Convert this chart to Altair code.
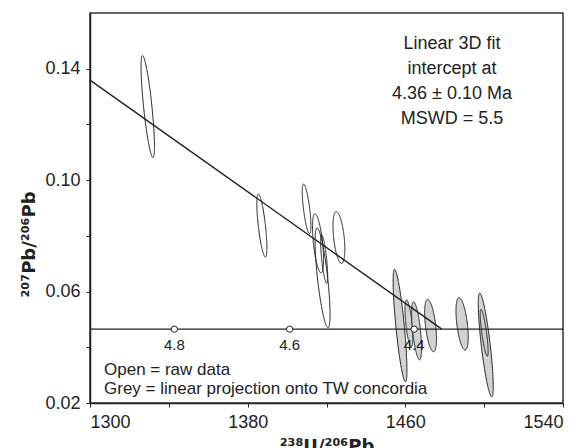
import json
import altair as alt
import numpy as np
import pandas as pd

# ---- data ----
# open ellipses (raw data): centre x, centre y, half x-extent, half y-extent, correlation
open_x = [1329.3, 1387.2, 1409.9, 1415.7, 1418.0, 1418.8, 1426.3]
open_y = [0.1264, 0.0837, 0.0897, 0.0773, 0.0649, 0.0717, 0.0794]
open_ax = [3.4, 2.55, 2.2, 2.8, 3.8, 1.8, 3.0]
open_ay = [0.0183, 0.0113, 0.0089, 0.0106, 0.0179, 0.0087, 0.0093]
open_rho = [-0.78, -0.7, -0.69, -0.55, -0.73, -0.71, -0.45]

# grey ellipses (projected onto TW concordia)
grey_x = [1457.3, 1461.8, 1465.7, 1472.8, 1488.8, 1500.8, 1500.0]
grey_y = [0.0478, 0.0486, 0.0459, 0.0478, 0.0484, 0.0408, 0.0452]
grey_ax = [3.5, 2.0, 2.5, 3.0, 3.1, 3.8, 2.0]
grey_ay = [0.0202, 0.0084, 0.0104, 0.0094, 0.0094, 0.0186, 0.0084]
grey_rho = [-0.79, -0.6, -0.6, -0.5, -0.5, -0.8, -0.8]

fit_x = [1300, 1478.5]
fit_y = [0.1359, 0.0465]
conc_x = [1300, 1540]
conc_y = [0.0465, 0.0465]
age_labels = ["4.8", "4.6", "4.4"]
age_x = [1342.8, 1401.3, 1464.5]
age_y = [0.0465, 0.0465, 0.0465]

x_ticks = [1300, 1340, 1380, 1420, 1460, 1500, 1540]
x_labels = ["1300", "1380", "1460", "1540"]
y_ticks = [0.02, 0.04, 0.06, 0.08, 0.10, 0.12, 0.14]
y_labels = ["0.02", "0.06", "0.10", "0.14"]

fit_text = ["Linear 3D fit", "intercept at", "4.36 \u00b1 0.10 Ma", "MSWD = 5.5"]
legend_text = ["Open = raw data", "Grey = linear projection onto TW concordia"]

FONT = "Liberation Sans"
TFONT = "DejaVu Sans"
INK = "#222222"


def ellipse_table(prefix, xs, ys, axs, ays, rhos):
    rows = []
    t = np.linspace(0, np.pi, 91)
    c, s = np.cos(t), np.sin(t)
    for i, (cx, cy, ax, ay, r) in enumerate(zip(xs, ys, axs, ays, rhos)):
        mid = cy + r * ay * c
        half = ay * np.sqrt(1 - r * r) * s
        for xx, m, h in zip(cx + ax * c, mid, half):
            rows.append({"id": f"{prefix}{i}", "x": xx, "y": m - h, "y2": m + h})
    return pd.DataFrame(rows)


open_df = ellipse_table("o", open_x, open_y, open_ax, open_ay, open_rho)
grey_df = ellipse_table("g", grey_x, grey_y, grey_ax, grey_ay, grey_rho)
fit_df = pd.DataFrame({"x": fit_x, "y": fit_y})
conc_df = pd.DataFrame({"x": conc_x, "y": conc_y})
age_df = pd.DataFrame({"x": age_x, "y": age_y, "label": age_labels})
one = pd.DataFrame({"a": [0]})

xscale = alt.Scale(domain=[1300, 1540], nice=False, zero=False)
yscale = alt.Scale(domain=[0.02, 0.16], nice=False, zero=False)

xaxis = alt.Axis(
    values=x_ticks, format="d", labelPadding=6,
    labelExpr=f"indexof({json.dumps(x_labels)}, datum.label) >= 0 ? datum.label : ''",
    title="\u00b2\u00b3\u2078U/\u00b2\u2070\u2076Pb", titleFontSize=18, titleFontWeight="bold",
    titleY=48, titleBaseline="alphabetic",
)
yaxis = alt.Axis(
    values=y_ticks, format=".2f", labelPadding=6,
    labelExpr=f"indexof({json.dumps(y_labels)}, datum.label) >= 0 ? datum.label : ''",
    title="\u00b2\u2070\u2077Pb/\u00b2\u2070\u2076Pb", titleFontSize=18, titleFontWeight="bold",
    titleX=-56, titleY=231, titleAngle=270, titleBaseline="alphabetic", titleAlign="center",
)

X = alt.X("x:Q", scale=xscale, axis=xaxis)
Y = alt.Y("y:Q", scale=yscale, axis=yaxis)

grey_layer = alt.Chart(grey_df).mark_area(
    fill="#d2d2d2", stroke=INK, strokeWidth=1, orient="vertical"
).encode(x=X, y=Y, y2="y2:Q", detail="id:N")

open_layer = alt.Chart(open_df).mark_area(
    fill="white", fillOpacity=0, stroke=INK, strokeWidth=1, orient="vertical"
).encode(x=X, y=Y, y2="y2:Q", detail="id:N")

fit_layer = alt.Chart(fit_df).mark_line(color=INK, strokeWidth=1.4).encode(x=X, y=Y)
conc_layer = alt.Chart(conc_df).mark_line(color=INK, strokeWidth=1.3).encode(x=X, y=Y)

age_pts = alt.Chart(age_df).mark_point(
    shape="circle", filled=True, fill="white", stroke=INK, strokeWidth=1, size=40, opacity=1
).encode(x=X, y=Y)
age_txt = alt.Chart(age_df).mark_text(
    font=FONT, fontSize=15, color=INK, dy=16, align="center", baseline="middle"
).encode(x=X, y=Y, text="label:N")

fit_note = alt.Chart(one).mark_text(
    font=FONT, fontSize=18, color=INK, align="center", baseline="middle", lineHeight=25
).encode(x=alt.value(362), y=alt.value(31), text=alt.value(fit_text))

legend_note = alt.Chart(one).mark_text(
    font=FONT, fontSize=17, color=INK, align="left", baseline="middle", lineHeight=19
).encode(x=alt.value(14), y=alt.value(357), text=alt.value(legend_text))

chart = alt.layer(
    grey_layer, open_layer, fit_layer, conc_layer, age_pts, age_txt, fit_note, legend_note
).properties(
    width=473, height=390,
    padding={"left": 82, "top": 5, "right": 13, "bottom": 45},
    autosize=alt.AutoSizeParams(type="none"),
).configure_view(
    stroke="#333333", strokeWidth=1.5
).configure_axis(
    grid=False, domainColor=INK, domainWidth=1.5, tickColor=INK, tickSize=4, tickWidth=1,
    labelFont=FONT, labelFontSize=18, labelColor=INK,
    titleFont=TFONT, titleColor=INK,
)

chart.save("out.html", embed_options={"renderer": "svg", "actions": False})
